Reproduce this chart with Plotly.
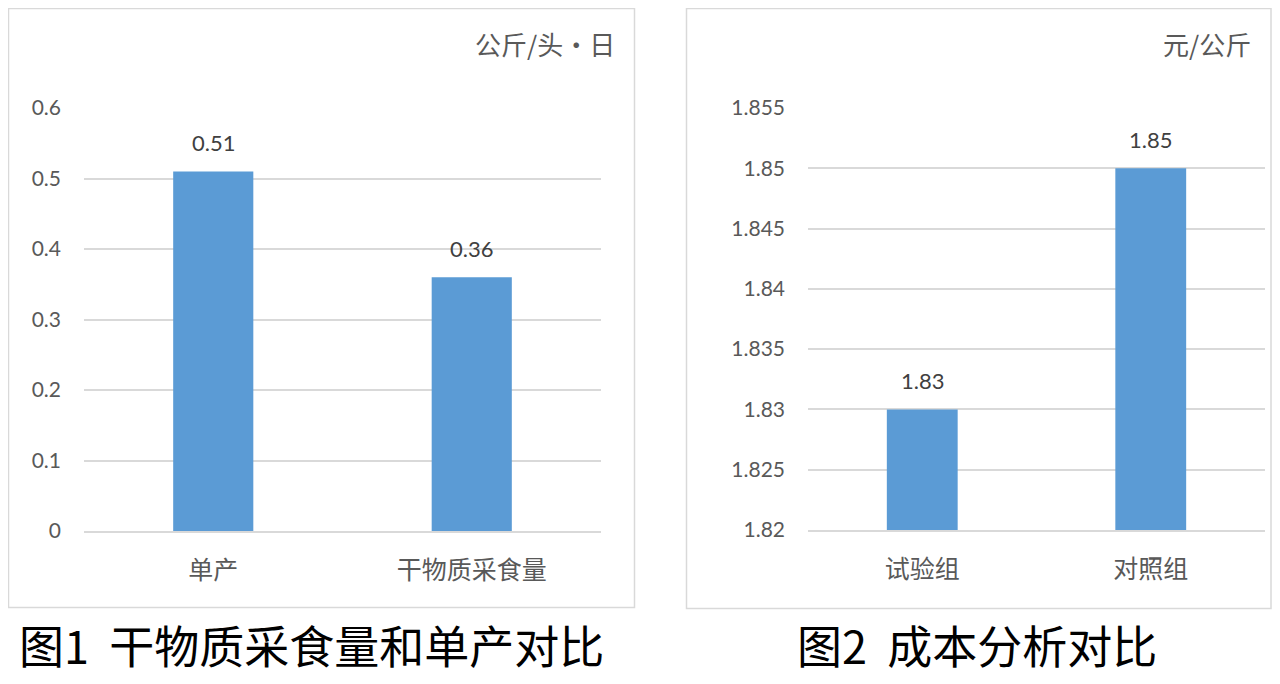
import plotly.graph_objects as go

# ---- data ----
cats1 = ["单产", "干物质采食量"]
vals1 = [0.51, 0.36]
labels1 = ["0.51", "0.36"]
yticks1 = [0, 0.1, 0.2, 0.3, 0.4, 0.5, 0.6]
yticktext1 = ["0", "0.1", "0.2", "0.3", "0.4", "0.5", "0.6"]
unit1 = "公斤/头·日"
caption1 = "图1  干物质采食量和单产对比"

cats2 = ["试验组", "对照组"]
vals2 = [1.83, 1.85]
labels2 = ["1.83", "1.85"]
yticks2 = [1.82, 1.825, 1.83, 1.835, 1.84, 1.845, 1.85, 1.855]
yticktext2 = ["1.82", "1.825", "1.83", "1.835", "1.84", "1.845", "1.85", "1.855"]
unit2 = "元/公斤"
caption2 = "图2  成本分析对比"

# page body has an 8px margin; the figure is sized to fill the visible window
OFF = 8
W, H = 1280 - 2 * OFF, 684 - 2 * OFF
BAR = "#5B9BD5"
GRID = "#D9D9D9"
TICK = "#595959"
CJK = "Noto Sans CJK SC"
NUM = "Lato, Noto Sans, sans-serif"


def px(x):
    return (x - OFF) / W


def py(y):
    return 1 - (y - OFF) / H


fig = go.Figure()
fig.add_trace(go.Bar(x=cats1, y=vals1, marker_color=BAR, width=0.31,
                     xaxis="x", yaxis="y", showlegend=False, hoverinfo="skip"))
fig.add_trace(go.Bar(x=cats2, y=[v - yticks2[0] for v in vals2], base=yticks2[0],
                     marker_color=BAR, width=0.31,
                     xaxis="x2", yaxis="y2", showlegend=False, hoverinfo="skip"))

annotations = []
for c, v, t in zip(cats1, vals1, labels1):
    annotations.append(dict(x=c, y=v, xref="x", yref="y", text=t, showarrow=False,
                            yanchor="bottom", yshift=13,
                            font=dict(family=NUM, size=22, color="#404040")))
for c, v, t in zip(cats2, vals2, labels2):
    annotations.append(dict(x=c, y=v, xref="x2", yref="y2", text=t, showarrow=False,
                            yanchor="bottom", yshift=13,
                            font=dict(family=NUM, size=22, color="#404040")))

annotations += [
    dict(x=px(617), y=py(44), xref="paper", yref="paper", text=unit1, showarrow=False,
         xanchor="right", yanchor="middle", font=dict(family=CJK, size=26, color=TICK)),
    dict(x=px(1253), y=py(44), xref="paper", yref="paper", text=unit2, showarrow=False,
         xanchor="right", yanchor="middle", font=dict(family=CJK, size=26, color=TICK)),
    dict(x=px(311), y=py(644), xref="paper", yref="paper", text=caption1, showarrow=False,
         xanchor="center", yanchor="middle", font=dict(family=CJK, size=45, color="#000000")),
    dict(x=px(977), y=py(644), xref="paper", yref="paper", text=caption2, showarrow=False,
         xanchor="center", yanchor="middle", font=dict(family=CJK, size=45, color="#000000")),
]

shapes = [
    dict(type="rect", xref="paper", yref="paper", x0=px(8.5), x1=px(634.5), y0=py(607.5), y1=py(8.5),
         line=dict(color=GRID, width=1.5), fillcolor="rgba(0,0,0,0)", layer="below"),
    dict(type="rect", xref="paper", yref="paper", x0=px(686.5), x1=px(1271), y0=py(608.5), y1=py(8.5),
         line=dict(color=GRID, width=1.5), fillcolor="rgba(0,0,0,0)", layer="below"),
]

xcommon = dict(type="category", showgrid=False, showline=True, linecolor=GRID, linewidth=1.5,
               ticks="", tickfont=dict(family=CJK, size=25, color=TICK), ticklabelstandoff=16,
               fixedrange=True, automargin=False)
ycommon = dict(showgrid=True, gridcolor=GRID, gridwidth=1.5, zeroline=False, showline=False,
               ticks="", tickfont=dict(family=NUM, size=21, color=TICK), ticklabelstandoff=22,
               fixedrange=True, automargin=False)

fig.update_layout(
    template="none",
    width=W, height=H,
    autosize=False,
    margin=dict(l=0, r=0, t=0, b=0, pad=0, autoexpand=False),
    paper_bgcolor="white", plot_bgcolor="white",
    xaxis=dict(domain=[px(84), px(601)], anchor="y", **xcommon),
    yaxis=dict(domain=[py(531), py(108)], anchor="x", range=[0, 0.6],
               tickvals=yticks1, ticktext=yticktext1, **ycommon),
    xaxis2=dict(domain=[px(808), px(1265)], anchor="y2", **xcommon),
    yaxis2=dict(domain=[py(530), py(108)], anchor="x2", range=[yticks2[0], yticks2[-1]],
                tickvals=yticks2, ticktext=yticktext2, **ycommon),
    annotations=annotations,
    shapes=shapes,
    showlegend=False,
)

fig.write_html("out.html", config={"displayModeBar": False})
